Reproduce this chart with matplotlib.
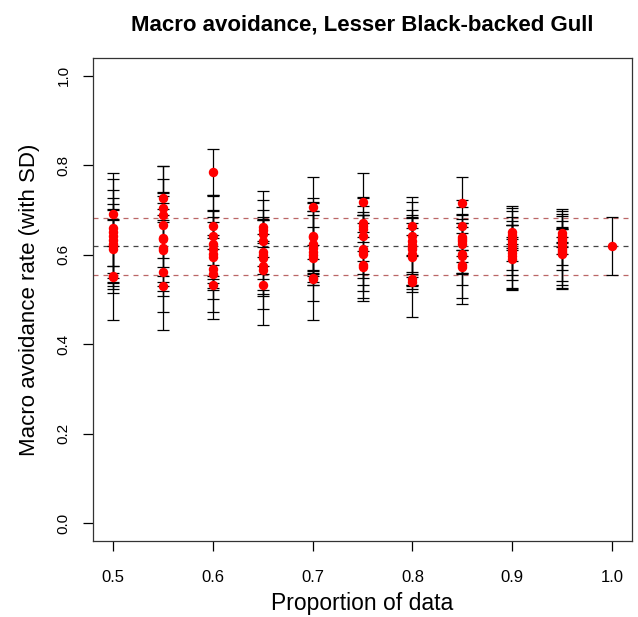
import matplotlib.pyplot as plt
import numpy as np

plt.rcParams['font.family'] = ['Liberation Sans', 'DejaVu Sans']

# proportion of data used in each subsample
props = [0.5, 0.55, 0.6, 0.65, 0.7, 0.75, 0.8, 0.85, 0.9, 0.95, 1.0]

# macro avoidance estimate of each replicate
means = [
    [0.691, 0.660, 0.651, 0.642, 0.634, 0.625, 0.619, 0.613, 0.553, 0.550],
    [0.727, 0.705, 0.688, 0.667, 0.638, 0.635, 0.615, 0.610, 0.562, 0.530],
    [0.784, 0.664, 0.643, 0.625, 0.613, 0.602, 0.595, 0.569, 0.557, 0.533],
    [0.662, 0.655, 0.647, 0.630, 0.607, 0.600, 0.593, 0.576, 0.567, 0.533],
    [0.707, 0.643, 0.640, 0.625, 0.615, 0.606, 0.600, 0.593, 0.548, 0.545],
    [0.718, 0.670, 0.665, 0.658, 0.643, 0.613, 0.608, 0.602, 0.578, 0.572],
    [0.664, 0.643, 0.630, 0.622, 0.617, 0.612, 0.602, 0.595, 0.545, 0.540],
    [0.715, 0.664, 0.640, 0.636, 0.631, 0.625, 0.602, 0.598, 0.578, 0.572],
    [0.651, 0.645, 0.638, 0.631, 0.624, 0.617, 0.610, 0.603, 0.597, 0.591],
    [0.649, 0.643, 0.637, 0.632, 0.626, 0.620, 0.614, 0.608, 0.604, 0.602],
    [0.619],
]

# standard deviation of each replicate
sds = [
    [0.012, 0.040, 0.076, 0.127, 0.110, 0.089, 0.164, 0.064, 0.022, 0.010],
    [0.012, 0.027, 0.015, 0.074, 0.131, 0.164, 0.183, 0.079, 0.010, 0.010],
    [0.053, 0.020, 0.030, 0.072, 0.087, 0.131, 0.138, 0.068, 0.020, 0.012],
    [0.015, 0.025, 0.030, 0.055, 0.094, 0.122, 0.150, 0.020, 0.060, 0.012],
    [0.010, 0.084, 0.050, 0.072, 0.160, 0.110, 0.061, 0.028, 0.015, 0.012],
    [0.010, 0.020, 0.025, 0.030, 0.140, 0.117, 0.088, 0.070, 0.030, 0.015],
    [0.020, 0.045, 0.030, 0.060, 0.100, 0.088, 0.070, 0.135, 0.012, 0.010],
    [0.008, 0.015, 0.030, 0.025, 0.142, 0.065, 0.070, 0.094, 0.020, 0.012],
    [0.015, 0.021, 0.028, 0.045, 0.080, 0.092, 0.087, 0.082, 0.043, 0.025],
    [0.010, 0.015, 0.020, 0.030, 0.060, 0.078, 0.088, 0.084, 0.072, 0.025],
    [0.065],
]

full_mean = 0.619
full_sd = 0.0635

fig = plt.figure(figsize=(6.38, 6.17), dpi=100)
ax = fig.add_axes([0.1458, 0.1232, 0.8448, 0.7828])

# error bars and points for every replicate
for p, m, s in zip(props, means, sds):
    x = np.full(len(m), p)
    ax.errorbar(x, m, yerr=s, fmt='none', ecolor='black', elinewidth=0.9,
                capsize=4, capthick=0.9, zorder=2)
    ax.plot(x, m, 'o', color='red', markersize=6.8, markeredgewidth=0, zorder=3)

# reference lines: mean and +/- SD from all data
ax.axhline(full_mean, color='#444444', linestyle=(0, (4, 4)), linewidth=0.9, zorder=1)
ax.axhline(full_mean + full_sd, color='#bb6666', linestyle=(0, (4, 4)), linewidth=0.9, zorder=1)
ax.axhline(full_mean - full_sd, color='#bb6666', linestyle=(0, (4, 4)), linewidth=0.9, zorder=1)

ax.set_xlim(0.48, 1.02)
ax.set_ylim(-0.04, 1.04)
ax.set_xticks([0.5, 0.6, 0.7, 0.8, 0.9, 1.0])
ax.set_xticklabels(['0.5', '0.6', '0.7', '0.8', '0.9', '1.0'])
ax.set_yticks([0.0, 0.2, 0.4, 0.6, 0.8, 1.0])
ax.set_yticklabels(['0.0', '0.2', '0.4', '0.6', '0.8', '1.0'], rotation=90, va='center')
ax.tick_params(direction='out', length=7, width=0.9, colors='black')
ax.tick_params(axis='x', labelsize=12, pad=14)
ax.tick_params(axis='y', labelsize=11, pad=9)

for sp in ax.spines.values():
    sp.set_linewidth(0.9)
    sp.set_color('#333333')

ax.set_xlabel('Proportion of data', fontsize=16.5, labelpad=5)
ax.set_ylabel('Macro avoidance rate (with SD)', fontsize=16, labelpad=12)
ax.set_title('Macro avoidance, Lesser Black-backed Gull', fontsize=16,
             fontweight='bold', pad=20)

plt.savefig('out.png', dpi=100)
